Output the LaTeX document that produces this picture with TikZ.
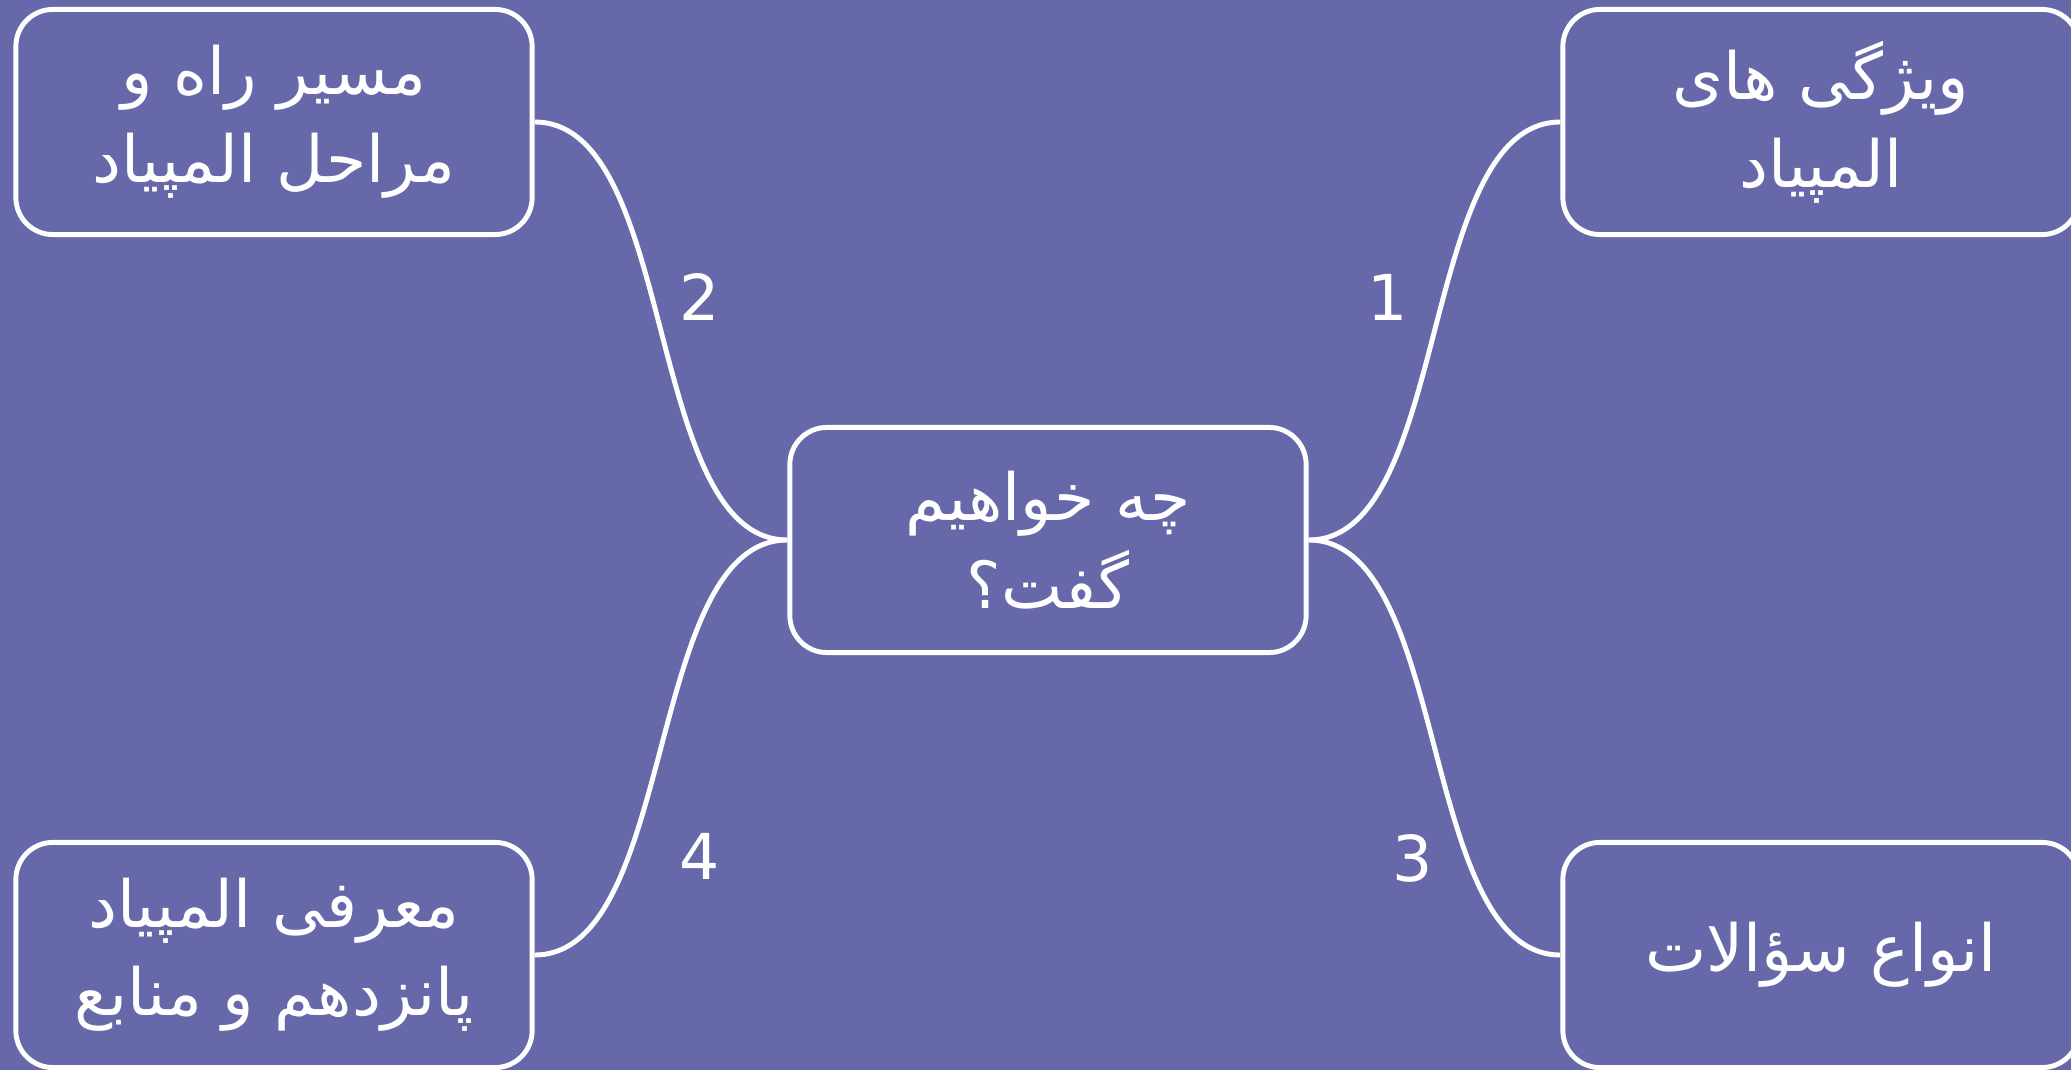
\documentclass[tikz,border=0pt]{standalone}
\usepackage{fontspec}
\setmainfont{DejaVu Sans}
\newfontfamily\arabicfont[Script=Arabic]{DejaVu Sans}
\TeXXeTstate=1
\definecolor{bgpurple}{RGB}{103,104,170}

\begin{document}
\begin{tikzpicture}[x=0.01cm, y=-0.01cm,
	topic/.style={draw=white, line width=1.4pt, rounded corners=0.37cm,
		minimum width=5.16cm, minimum height=2.25cm, inner sep=0pt,
		text=white, align=center, font=\arabicfont\fontsize{18.5}{25}\selectfont},
	link/.style={draw=white, line width=1.4pt, looseness=0.75},
	num/.style={text=white, font=\fontsize{18}{22}\selectfont}]
	% Nền
	\fill[bgpurple] (0, 0) rectangle (2071, 1070);
	\useasboundingbox (0, 0) rectangle (2071, 1070);
	
	% Ô trung tâm
	\node[topic] (center) at (1048, 540) {\beginR چه خواهیم\endR\\\beginR گفت؟\endR};
	
	% Các ô chủ đề
	\node[topic] (feature) at (1821, 122) {\beginR ویژگی های\endR\\\beginR المپیاد\endR};
	\node[topic] (route) at (274, 122) {\beginR مسیر راه و\endR\\\beginR مراحل المپیاد\endR};
	\node[topic] (question) at (1821, 955) {\beginR انواع سؤالات\endR};
	\node[topic] (source) at (274, 955) {\beginR معرفی المپیاد\endR\\\beginR پانزدهم و منابع\endR};
	
	% Đường nối
	\draw[link] (center.east) to[out=0, in=180] (feature.west);
	\draw[link] (center.west) to[out=180, in=0] (route.east);
	\draw[link] (center.east) to[out=0, in=180] (question.west);
	\draw[link] (center.west) to[out=180, in=0] (source.east);
	
	% Số thứ tự
	\node[num] (n1) at (1388, 297) {1};
	\node[num] (n2) at (700, 297) {2};
	\node[num] (n3) at (1413, 858) {3};
	\node[num] (n4) at (700, 856) {4};
\end{tikzpicture}
\end{document}
